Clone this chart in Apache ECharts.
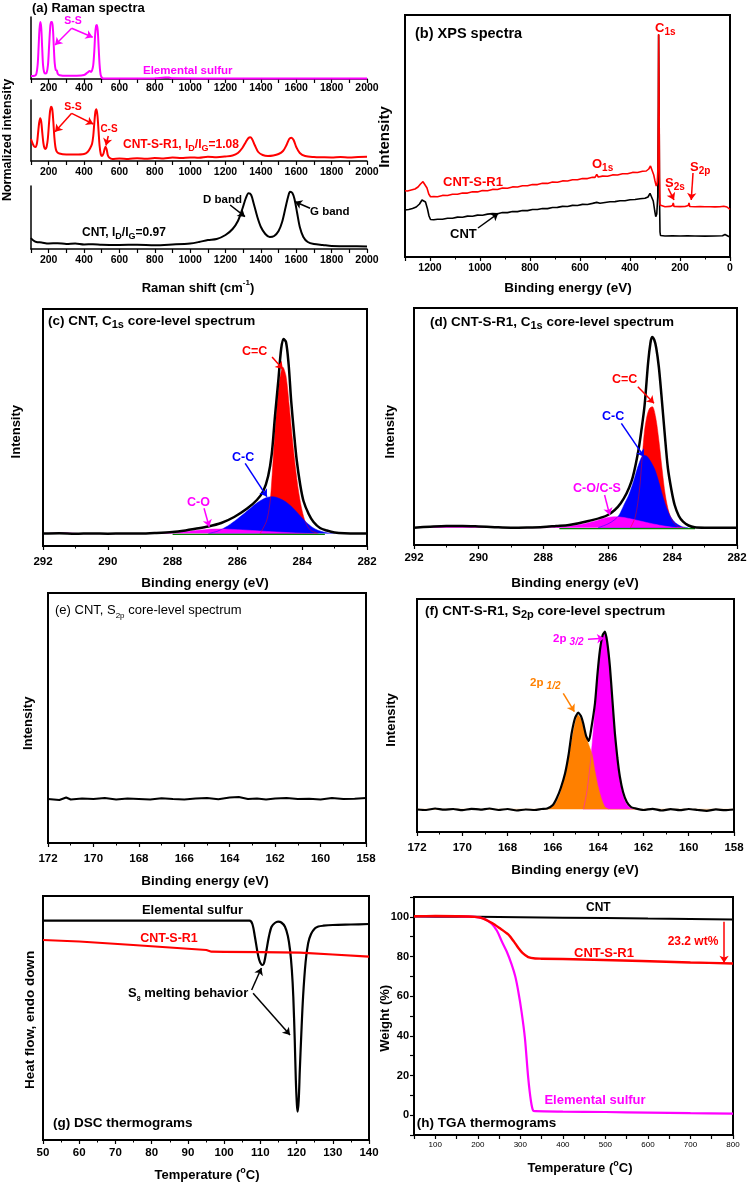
<!DOCTYPE html>
<html>
<head>
<meta charset="utf-8">
<script src="https://cdn.jsdelivr.net/npm/echarts@6.0.0/dist/echarts.min.js"></script>
<style>
html, body { margin: 0; padding: 0; background: #fff; }
#chart-container { width: 750px; height: 1183px; }
</style>
</head>
<body>
<div id="chart-container"></div>
<script>
'use strict';

// ---------- data (x, y) ----------
// (a) Raman spectra, [shift cm-1, intensity above each sub-axis]
const ramanSulfur = [[100,3],[120,3.2],[130,5],[138,15],[143,32],[148,50],[153,57],[158,51],[163,32],[168,14],[174,7],[180,5.5],[188,6],[196,14],[202,32],[208,50],[213,57],[219,57],[224,50],[229,32],[234,16],[240,9],[246,8.5],[252,5],[262,3.8],[300,3.2],[350,3.3],[400,4],[420,6.5],[432,8],[440,7],[446,9],[452,14],[458,28],[463,45],[468,53],[473,54],[478,47],[483,30],[488,14],[494,4],[502,1],[510,0.6],[600,0.6],[800,0.7],[860,1.5],[880,1.4],[900,0.7],[1200,0.6],[1600,0.6],[2000,0.6]];
const ramanCntS = [[100,22],[108,18],[118,14.5],[126,14],[134,18],[140,28],[146,38],[152,42.7],[158,39],[164,28],[170,18],[176,13],[182,12],[188,14],[195,22],[202,38],[208,50],[214,54.3],[220,52],[226,40],[232,24],[238,14],[245,9.5],[260,7.5],[300,6.5],[350,6.5],[400,7],[420,9],[435,13],[445,17],[452,25],[458,38],[464,49],[470,51.7],[476,45],[482,30],[488,15],[495,6.5],[502,5],[510,7.5],[516,12],[522,14.3],[528,11.5],[534,6],[542,3.5],[560,2],[600,2.5],[650,2],[700,2.8],[750,2.2],[800,3],[850,2.6],[900,3.5],[950,3],[1000,3.6],[1050,3.2],[1100,4.2],[1150,3.8],[1200,4.5],[1240,5.5],[1270,8],[1295,13],[1315,19],[1330,23],[1340,23.7],[1350,22],[1365,16],[1385,9],[1410,6],[1440,5],[1470,5.5],[1500,7],[1525,10],[1545,16],[1560,22],[1572,23.3],[1585,21],[1600,14],[1620,8],[1650,5],[1700,4],[1750,3.7],[1800,3.5],[1850,4],[1900,3.6],[1950,4],[2000,4.2]];
const ramanCnt = [[100,11],[110,9],[130,7],[160,6.5],[200,5.5],[250,5.8],[300,5],[350,5.5],[400,4.5],[450,4.8],[500,4.2],[600,4],[700,4.3],[800,3.8],[900,4.5],[1000,5.5],[1050,7],[1100,9],[1150,10],[1200,14],[1240,20],[1270,28],[1295,40],[1315,51],[1330,55.7],[1345,54],[1360,45],[1380,32],[1400,22],[1425,15],[1450,12],[1475,13],[1500,18],[1520,27],[1540,42],[1555,53],[1565,57.3],[1578,56],[1590,50],[1605,36],[1620,22],[1640,12],[1665,7],[1700,5],[1750,4],[1800,3],[1900,2.8],[2000,2.5]];

// (b) XPS survey, [binding energy eV, intensity]
const surveyCnt = [[1300,47],[1285,47.5],[1270,48.5],[1255,50],[1242,53],[1232,57],[1226,58],[1218,55],[1210,48],[1204,41],[1198,37.5],[1185,37.2],[1170,37.8],[1150,37.7],[1130,38.8],[1110,38.8],[1090,39.9],[1070,39.8],[1050,40.9],[1030,40.8],[1010,41.9],[990,41.8],[970,42.9],[950,43.4],[930,43.3],[910,44.5],[890,44.4],[870,45.5],[850,45.4],[830,46.5],[810,46.4],[790,47.5],[770,47.5],[750,48.5],[730,48.4],[710,49.5],[690,49.6],[670,50.6],[650,50.5],[630,51.6],[610,51.5],[590,52.6],[570,52.5],[550,53.6],[533,54.6],[520,53.8],[500,54.5],[480,55.2],[460,55.4],[440,56.2],[420,56.3],[400,57.2],[380,57.5],[360,58.2],[340,58.7],[328,60],[320,63.7],[314,62.5],[307,56],[301,46],[297,40.3],[293,43],[289,60],[286.5,150],[285.5,222],[284.5,223],[283.5,150],[282,60],[280,25],[278,21.5],[260,21],[230,21.2],[200,21],[170,21.1],[140,21],[100,20.9],[60,21],[30,21.2],[20,22.5],[14,21.5],[5,20.5],[0,20.3]];
const surveyCntS = [[1300,66.3],[1290,66],[1275,67],[1260,68],[1248,70],[1238,73],[1228,75.3],[1220,74],[1212,69],[1205,63],[1198,60.3],[1185,60.4],[1170,60.2],[1150,61.6],[1130,61.5],[1110,62.8],[1090,62.7],[1070,64],[1050,63.9],[1030,65.2],[1010,65.1],[990,66.4],[970,66.3],[950,67.6],[930,67.5],[910,68.9],[890,68.8],[870,70.1],[850,70],[830,71.3],[810,71.2],[790,72.5],[770,72.4],[750,73.7],[730,73.6],[710,74.9],[690,74.8],[670,76.1],[650,76],[630,77.3],[610,77.2],[590,78.5],[570,78.4],[550,79.7],[540,79.6],[533,82.5],[527,80],[510,80.9],[490,80.8],[470,82.1],[450,82],[430,83.3],[410,83.3],[390,84.6],[370,84.5],[350,85.7],[335,86],[325,88],[318,91],[312,89],[305,82],[300,76],[295,71],[291,74],[288,90],[286.5,150],[285.5,223],[284.5,224],[283.5,150],[282,80],[280,52],[278,50.5],[260,50.3],[240,50.6],[230,51.5],[227,54],[224,50.5],[200,50.4],[180,50.5],[167,51.5],[164,54],[161,50.5],[140,50.3],[120,50.4],[100,50.2],[80,50.3],[60,50.1],[40,50.2],[25,50.8],[18,52],[12,50],[5,48],[0,47.5]];

// (c) CNT C1s
const c1sCntEnv = [[292,12.4],[291.5,12.8],[291,12.2],[290.5,12.6],[290,12.3],[289.5,12.5],[289,12.4],[288.5,13],[288,14],[287.6,15.6],[287.3,17.2],[286.9,19.5],[286.5,23],[286.1,29],[285.7,37.4],[285.4,46],[285.2,55],[285.05,70],[284.94,92],[284.84,130],[284.73,168],[284.65,197],[284.58,207],[284.5,204],[284.42,182],[284.34,145],[284.25,112],[284.17,86],[284.06,61],[283.96,45],[283.8,32],[283.65,24],[283.45,18],[283.24,15.5],[283,13.6],[282.7,12.7],[282.3,12.4],[282,12.4]];
const c1sCntCdC = [[285.3,12.4],[285.1,25],[285.0,42],[284.95,60],[284.86,105],[284.78,140],[284.7,165],[284.6,179],[284.5,170],[284.4,140],[284.3,106],[284.2,76],[284.1,52],[284.0,35],[283.9,24],[283.75,16],[283.5,12.4]];
const c1sCntCC = [[286.9,12.4],[286.6,15],[286.3,20],[286.0,27],[285.7,35],[285.4,43],[285.1,48.5],[284.9,49.3],[284.7,47.5],[284.5,44],[284.3,38.5],[284.1,31.5],[283.9,24.5],[283.7,19],[283.5,15.5],[283.2,13],[283.0,12.4]];
const c1sCntCO = [[292,12.4],[291.3,13.2],[290.8,12.4],[289,12.4],[288.3,13],[287.6,14.5],[287.1,16],[286.7,17],[286.3,16.8],[285.7,15.8],[285.1,14.6],[284.5,13.5],[283.9,12.6],[283.5,12.4]];
const c1sCntBase = [[288,11.6],[283.3,11.6]];

// (d) CNT-S-R1 C1s
const c1sCntSEnv = [[292,17.3],[291.5,18.3],[291,19],[290.5,19],[290,18.5],[289.5,17.8],[289,17.3],[288.5,17.5],[288,18],[287.6,19],[287.2,20],[286.6,24],[286.0,30],[285.6,41.7],[285.27,63.3],[285.06,93.3],[284.95,117],[284.86,140],[284.75,183],[284.68,202],[284.63,208],[284.56,205],[284.5,197],[284.42,178],[284.34,150],[284.24,112],[284.14,77],[284.03,55],[283.93,40],[283.8,29],[283.67,23.3],[283.5,19.5],[283.31,17.7],[283,17.3],[282,17.3]];
const c1sCntSCdC = [[285.3,17.3],[285.15,28],[285.02,55],[284.93,90],[284.86,115],[284.78,130],[284.7,137],[284.62,138.3],[284.52,128],[284.42,105],[284.32,76],[284.22,50],[284.1,32],[283.95,22],[283.75,17.5],[283.6,17.3]];
const c1sCntSCC = [[286.3,17.3],[286.0,21],[285.8,25],[285.65,30],[285.5,40],[285.35,50],[285.2,64],[285.05,80],[284.9,89.5],[284.8,89],[284.7,85],[284.55,76],[284.42,63],[284.3,49],[284.18,37],[284.05,28],[283.9,22],[283.7,18.3],[283.5,17.3]];
const c1sCntSCO = [[292,17.3],[291,18.3],[290,17.8],[289,17.3],[288,17.3],[287.5,18],[287.0,19.5],[286.5,23],[286.1,26.8],[285.8,28.3],[285.5,27.5],[285.2,25.5],[284.8,22.5],[284.4,19.8],[284.0,17.8],[283.7,17.3]];
const c1sCntSBase = [[287.5,16.3],[283.3,16.3]];

// (e) CNT S2p
const s2pCnt = [[172,44],[171.5,43],[171.2,45.5],[171,43.5],[170.5,44.5],[170,44],[169.5,45],[169,43.5],[168.5,44.5],[168,44],[167.5,43.5],[167,44.8],[166.5,44],[166,43.6],[165.5,44.5],[165,45],[164.5,43.8],[164,45.5],[163.6,46],[163.2,44],[162.8,44.6],[162.4,43.5],[162,44.5],[161.5,45],[161,44],[160.5,44.2],[160,43.5],[159.5,45],[159,44],[158.5,44.3],[158,45]];

// (f) CNT-S-R1 S2p
const s2pCntSEnv = [[172,22.5],[171.6,22],[171.2,23.5],[170.8,22.3],[170.4,23],[170,21.8],[169.6,23.2],[169.2,22.4],[168.8,23.5],[168.4,22],[168,23],[167.6,21.5],[167.2,22.5],[166.8,22],[166.5,23],[166.25,23.5],[166.0,27],[165.83,33.7],[165.65,44],[165.46,58.7],[165.3,78],[165.17,98.7],[165.02,114],[164.88,119.3],[164.76,116],[164.66,108.7],[164.53,96],[164.41,91],[164.3,104],[164.14,128.7],[164.03,158],[163.92,182],[163.8,197],[163.7,200.3],[163.6,190],[163.48,165.3],[163.37,132],[163.26,98.7],[163.15,74],[163.04,55.3],[162.9,40],[162.74,30.3],[162.55,25],[162.38,23.7],[162,22],[161.6,23.2],[161.2,21.5],[160.8,22.8],[160.4,21.8],[160,23],[159.6,22],[159.2,21.2],[158.8,22.6],[158.4,21.8],[158,22.5]];
const s2p32 = [[164.65,22.7],[164.5,40],[164.35,68],[164.2,105],[164.05,148],[163.9,182],[163.78,196],[163.7,198.5],[163.6,188],[163.48,160],[163.35,120],[163.22,85],[163.1,60],[162.96,42],[162.8,30],[162.6,24.5],[162.4,22.7]];
const s2p12 = [[172,22.7],[166.4,22.7],[166.1,25],[165.9,28],[165.7,37],[165.5,54],[165.3,74],[165.15,94],[165.0,111],[164.9,117],[164.78,114],[164.65,105],[164.5,93],[164.38,85],[164.27,78],[164.15,62],[164.0,45],[163.85,33],[163.7,25],[163.5,22.7],[158,22.7]];

// (g) DSC, [temperature C, heat flow]
const dscSulfur = [[50,219.3],[70,219.3],[90,219.3],[107,219.3],[107.8,216],[108.5,203.3],[109.2,188],[109.7,180],[110.2,176],[110.6,175],[111.1,178],[111.7,190],[112.4,204],[113.1,213.3],[114,217],[114.9,218.3],[115.8,217.5],[116.8,213.3],[117.6,204],[118.2,190],[118.7,170],[119.1,143.3],[119.5,100],[119.8,60],[120.1,35],[120.3,28.3],[120.6,40],[120.9,70],[121.3,105],[121.8,143.3],[122.5,178],[123.2,196.7],[124,206],[125.1,211.7],[126,213.5],[127.4,214.3],[130,215],[135,215.5],[140,216]];
const dscCntS = [[50,200],[60,198.5],[74.9,195],[85,192.5],[95.1,190],[96.5,188.3],[100,188.2],[110,187.8],[120.9,187.3],[130,185.5],[140,183.3]];

// (h) TGA, [temperature C, weight %]
const tgaCnt = [[50,100.2],[100,100.1],[200,100],[300,99.8],[400,99.6],[500,99.4],[600,99.1],[700,98.9],[800,98.7]];
const tgaCntS = [[50,100.3],[100,100.4],[150,100.3],[193,100],[210,99.4],[232.5,97],[250,94.5],[271.5,91.1],[285,87.5],[295,84.4],[305,81.8],[318.5,79.7],[335,79],[350,78.9],[450,78.5],[585,77.7],[700,77],[800,76.5]];
const tgaSulfur = [[50,100.3],[100,100.4],[150,100.3],[193,100],[215,99],[232.5,96.5],[245,93],[256,87.8],[268,82.5],[279.5,76],[288,70],[295,62.6],[303,52],[310.7,39],[318.5,18.9],[325,7],[330.3,2.2],[335,2],[400,1.8],[500,1.6],[600,1.3],[700,1],[800,0.8]];

// annotation arrows, [from, to] in data units of their panel
const arrowsA1 = [[[330,50.7],[236,34]],[[330,50.7],[449,41.7]]];
const arrowsA2 = [[[330,47.7],[236,29.3]],[[330,47.7],[452,37]],[[537,25],[524,15.5]]];
const arrowsA3 = [[[1226,44],[1310,32.3]],[[1678,40.7],[1593,47.3]]];
const arrowsBblack = [[[1008,29],[927,43.7]]];
const arrowsBred = [[[247,68.7],[224,57]],[[148,84],[155,57]]];
const arrowsCred = [[[284.93,189],[284.6,177]]];
const arrowsCblue = [[[285.76,82.7],[285.09,49.3]]];
const arrowsCmag = [[[287.03,37.7],[286.87,19.3]]];
const arrowsDred = [[[285.07,158.3],[284.57,141.7]]];
const arrowsDblue = [[[285.58,121.7],[284.88,88.3]]];
const arrowsDmag = [[[286.1,50],[285.94,30]]];
const arrowsFmag = [[[164.45,192.7],[163.74,193.7]]];
const arrowsForg = [[[165.54,138.7],[165.05,120.3]]];
const arrowsG = [[[107.6,150],[110.3,172]],[[108.0,146.7],[118.2,105]]];
const arrowsH = [[[779,97.5],[779,76.8]]];

// ---------- styling ----------
const FONT = '"Liberation Sans", Arial, Helvetica, sans-serif';
const MAG = '#ff00ff';
const RED = '#ff0000';
const BLUE = '#0000ff';
const ORANGE = '#ff8000';
const GREEN = '#008000';

// grid boxes in pixels: [left, top, width, height]
const boxes = [
    [31, 17, 336, 62], [31, 100, 336, 61], [31, 186, 336, 63],
    [405, 15, 325, 242],
    [43, 309, 324, 237], [414, 308, 323, 237],
    [48, 593, 318, 250], [417, 599, 317, 233],
    [43, 896, 326, 244], [414, 897, 319, 238]
];

function xAx(grid, min, max, interval, p) {
    p = p || {};
    return {
        gridIndex: grid, type: 'value', min: min, max: max, interval: interval, inverse: !!p.inverse,
        axisLine: { show: true, onZero: false, lineStyle: { color: '#000', width: p.lw || 2 } },
        axisTick: { show: true, inside: false, length: 4, lineStyle: { color: '#000', width: 1.2 } },
        minorTick: { show: !!p.minor, splitNumber: 2, length: 2.5, lineStyle: { color: '#000', width: 1 } },
        axisLabel: {
            margin: p.margin || 8, color: '#000', fontFamily: FONT, fontWeight: p.weight || 'bold',
            fontSize: p.size || 11, formatter: p.fmt, showMinLabel: true, showMaxLabel: true
        },
        splitLine: { show: false }
    };
}

function yAx(grid, min, max, p) {
    p = p || {};
    return {
        gridIndex: grid, type: 'value', min: min, max: max, interval: p.interval,
        axisLine: { show: !!p.line, onZero: false, lineStyle: { color: '#000', width: p.lw || 2 } },
        axisTick: { show: !!p.labels, inside: false, length: 4, lineStyle: { color: '#000', width: 1.2 } },
        axisLabel: {
            show: !!p.labels, margin: 5, color: '#000', fontFamily: FONT, fontWeight: 'bold',
            fontSize: 11, formatter: p.fmt, showMinLabel: true, showMaxLabel: true
        },
        splitLine: { show: false }
    };
}

function arrowMarks(list, color) {
    return {
        silent: true, animation: false, symbol: ['none', 'arrow'], symbolSize: 7,
        label: { show: false },
        lineStyle: { color: color, width: 1.5, type: 'solid' },
        emphasis: { disabled: true },
        data: list.map(a => [{ coord: a[0] }, { coord: a[1] }])
    };
}

function line(grid, data, color, opt) {
    return Object.assign({
        type: 'line', xAxisIndex: grid, yAxisIndex: grid, data: data,
        symbol: 'none', showSymbol: false, silent: true, animation: false,
        lineStyle: { color: color, width: 2 }, itemStyle: { color: color },
        smooth: false
    }, opt || {});
}

function area(grid, data, color, base, opt) {
    return line(grid, data, color, Object.assign({
        smooth: 0.3,
        lineStyle: { color: color, width: 0.5 },
        areaStyle: { color: color, opacity: 1, origin: base }
    }, opt || {}));
}

// rich text label helper
function txt(x, y, text, size, color, o) {
    o = o || {};
    const w = o.weight || 'bold';
    const lh = size + 5;
    const sub = o.sub || Math.round(size * 0.78);
    const sup = o.sup || Math.round(size * 0.65);
    return {
        type: 'text', x: x, y: y, rotation: o.rot || 0, silent: true, z: 100,
        style: {
            text: text, fill: color || '#000',
            align: o.align || 'left', textAlign: o.align || 'left',
            verticalAlign: 'middle', textVerticalAlign: 'middle',
            rich: {
                n: { fontFamily: FONT, fontWeight: w, fontSize: size, lineHeight: lh, fill: color || '#000' },
                s: { fontFamily: FONT, fontWeight: w, fontSize: sub, lineHeight: sub, verticalAlign: 'bottom', fill: color || '#000' },
                i: { fontFamily: FONT, fontWeight: w, fontStyle: 'italic', fontSize: sub, lineHeight: sub, verticalAlign: 'bottom', fill: color || '#000' },
                u: { fontFamily: FONT, fontWeight: w, fontSize: sup, lineHeight: sup, verticalAlign: 'top', fill: color || '#000' }
            }
        }
    };
}
const V = Math.PI / 2;

let myChart = null;

function create() {
    if (myChart !== null) {
        return myChart;
    }
    myChart = echarts.init(document.getElementById('chart-container'), null, { renderer: 'canvas' });

    const grids = boxes.map((b, i) => ({
        left: b[0], top: b[1], width: b[2], height: b[3],
        show: i >= 3, borderColor: '#000', borderWidth: 2, backgroundColor: 'transparent',
        containLabel: false, outerBoundsMode: 'none'
    }));

    const ramanFmt = v => (v % 200 === 0 ? String(v) : '');
    const xAxes = [
        xAx(0, 100, 2000, 100, { fmt: ramanFmt, margin: 4, size: 10.5, lw: 1.5 }),
        xAx(1, 100, 2000, 100, { fmt: ramanFmt, margin: 6, size: 10.5, lw: 1.5 }),
        xAx(2, 100, 2000, 100, { fmt: ramanFmt, margin: 6, size: 10.5, lw: 1.5 }),
        xAx(3, 0, 1300, 200, { inverse: true, minor: true, margin: 6, size: 10.5, fmt: v => (v === 1300 ? '' : String(v)) }),
        xAx(4, 282, 292, 2, { inverse: true, minor: true, margin: 10, size: 11.5 }),
        xAx(5, 282, 292, 2, { inverse: true, minor: true, margin: 7, size: 11.5 }),
        xAx(6, 158, 172, 2, { inverse: true, minor: true, margin: 10, size: 11.5 }),
        xAx(7, 158, 172, 2, { inverse: true, minor: true, margin: 10, size: 11.5 }),
        xAx(8, 50, 140, 10, { minor: true, margin: 7, size: 11.5 }),
        xAx(9, 50, 800, 50, { margin: 6, size: 8, weight: 'normal', fmt: v => (v % 100 === 0 ? String(v) : '') })
    ];
    const yAxes = boxes.map((b, i) => {
        if (i < 3) return yAx(i, 0, b[3], { line: true, lw: 1.5 });
        if (i === 9) {
            return yAx(9, -10, 110, {
                line: true, labels: true, interval: 10,
                fmt: v => (v >= 0 && v <= 100 && v % 20 === 0 ? String(v) : '')
            });
        }
        return yAx(i, 0, b[3], { line: false });
    });

    const series = [
        line(0, ramanSulfur, MAG, { smooth: 0.3, markLine: arrowMarks(arrowsA1, MAG) }),
        line(1, ramanCntS, RED, { smooth: 0.3, markLine: arrowMarks(arrowsA2, RED) }),
        line(2, ramanCnt, '#000', { smooth: 0.3, markLine: arrowMarks(arrowsA3, '#000') }),

        line(3, surveyCnt, '#000', { lineStyle: { color: '#000', width: 1.6 }, markLine: arrowMarks(arrowsBblack, '#000') }),
        line(3, surveyCntS, RED, { lineStyle: { color: RED, width: 1.6 }, markLine: arrowMarks(arrowsBred, RED) }),

        area(4, c1sCntCdC, RED, 12.4, { markLine: arrowMarks(arrowsCred, RED) }),
        area(4, c1sCntCC, BLUE, 12.4, { markLine: arrowMarks(arrowsCblue, BLUE) }),
        area(4, c1sCntCO, MAG, 12.4, { markLine: arrowMarks(arrowsCmag, MAG) }),
        line(4, c1sCntBase, GREEN, { lineStyle: { color: GREEN, width: 1.2 } }),
        line(4, c1sCntEnv, '#000', { smooth: 0.3, lineStyle: { color: '#000', width: 2.5 } }),

        area(5, c1sCntSCdC, RED, 17.3, { markLine: arrowMarks(arrowsDred, RED) }),
        area(5, c1sCntSCC, BLUE, 17.3, { markLine: arrowMarks(arrowsDblue, BLUE) }),
        area(5, c1sCntSCO, MAG, 17.3, { markLine: arrowMarks(arrowsDmag, MAG) }),
        line(5, c1sCntSBase, GREEN, { lineStyle: { color: GREEN, width: 1.2 } }),
        line(5, c1sCntSEnv, '#000', { smooth: 0.3, lineStyle: { color: '#000', width: 2.5 } }),

        line(6, s2pCnt, '#000', { lineStyle: { color: '#000', width: 2 } }),

        area(7, s2p32, MAG, 22.7, { markLine: arrowMarks(arrowsFmag, MAG) }),
        area(7, s2p12, ORANGE, 22.7, { smooth: 0.2, markLine: arrowMarks(arrowsForg, ORANGE) }),
        line(7, s2pCntSEnv, '#000', { smooth: 0.2, lineStyle: { color: '#000', width: 2.2 } }),

        line(8, dscSulfur, '#000', { smooth: 0.3, lineStyle: { color: '#000', width: 2.2 }, markLine: arrowMarks(arrowsG, '#000') }),
        line(8, dscCntS, RED, { lineStyle: { color: RED, width: 2.2 } }),

        line(9, tgaCnt, '#000', { lineStyle: { color: '#000', width: 2 } }),
        line(9, tgaSulfur, MAG, { smooth: 0.3, lineStyle: { color: MAG, width: 2.2 } }),
        line(9, tgaCntS, RED, { smooth: 0.3, lineStyle: { color: RED, width: 2.4 }, markLine: arrowMarks(arrowsH, RED) })
    ];

    const texts = [
        // (a)
        txt(32, 8, '{n|(a) Raman spectra}', 13, '#000'),
        txt(73, 21, '{n|S-S}', 10.5, MAG, { align: 'center' }),
        txt(143, 70.5, '{n|Elemental sulfur}', 11.5, MAG),
        txt(73, 107, '{n|S-S}', 10.5, RED, { align: 'center' }),
        txt(109, 129, '{n|C-S}', 10, RED, { align: 'center' }),
        txt(123, 145, '{n|CNT-S-R1, I}{s|D}{n|/I}{s|G}{n|=1.08}', 12, RED, { sub: 9 }),
        txt(203, 200, '{n|D band}', 11.5, '#000'),
        txt(310, 211.7, '{n|G band}', 11.5, '#000'),
        txt(82, 233, '{n|CNT, I}{s|D}{n|/I}{s|G}{n|=0.97}', 12, '#000', { sub: 9 }),
        txt(8, 140, '{n|Normalized intensity}', 12.5, '#000', { rot: V, align: 'center' }),
        txt(198, 288, '{n|Raman shift (cm}{u|-1}{n|)}', 13, '#000', { align: 'center' }),
        // (b)
        txt(415, 34, '{n|(b) XPS spectra}', 14.5, '#000'),
        txt(655, 28, '{n|C}{s|1s}', 13, RED),
        txt(592, 164, '{n|O}{s|1s}', 13, RED),
        txt(443, 182, '{n|CNT-S-R1}', 13, RED),
        txt(450, 234, '{n|CNT}', 13, '#000'),
        txt(665, 183, '{n|S}{s|2s}', 13, RED),
        txt(690, 167, '{n|S}{s|2p}', 13, RED),
        txt(385, 137, '{n|Intensity}', 15, '#000', { rot: V, align: 'center' }),
        txt(568, 288, '{n|Binding energy (eV)}', 13.5, '#000', { align: 'center' }),
        // (c)
        txt(48, 321.7, '{n|(c) CNT, C}{s|1s}{n| core-level spectrum}', 13.5, '#000', { sub: 11 }),
        txt(242, 351.7, '{n|C=C}', 12.5, RED),
        txt(232, 458, '{n|C-C}', 12.5, BLUE),
        txt(187, 503, '{n|C-O}', 12.5, MAG),
        txt(16.7, 431.7, '{n|Intensity}', 13, '#000', { rot: V, align: 'center' }),
        txt(205, 583.3, '{n|Binding energy (eV)}', 13.5, '#000', { align: 'center' }),
        // (d)
        txt(430, 322.3, '{n|(d) CNT-S-R1, C}{s|1s}{n| core-level spectrum}', 13.5, '#000', { sub: 11 }),
        txt(612, 380, '{n|C=C}', 12.5, RED),
        txt(602, 416.7, '{n|C-C}', 12.5, BLUE),
        txt(573, 488.3, '{n|C-O/C-S}', 12.5, MAG),
        txt(390, 431.7, '{n|Intensity}', 13, '#000', { rot: V, align: 'center' }),
        txt(575, 583.3, '{n|Binding energy (eV)}', 13.5, '#000', { align: 'center' }),
        // (e)
        txt(55, 610.7, '{n|(e) CNT, S}{s|2p}{n| core-level spectrum}', 13, '#000', { weight: 'normal', sub: 8 }),
        txt(28.3, 723.3, '{n|Intensity}', 13, '#000', { rot: V, align: 'center' }),
        txt(205, 881.7, '{n|Binding energy (eV)}', 13.5, '#000', { align: 'center' }),
        // (f)
        txt(425, 611.7, '{n|(f) CNT-S-R1, S}{s|2p}{n| core-level spectrum}', 13.5, '#000', { sub: 11 }),
        txt(553, 639.3, '{n|2p }{i|3/2}', 11.5, MAG, { sub: 10 }),
        txt(530, 683.3, '{n|2p }{i|1/2}', 11.5, ORANGE, { sub: 10 }),
        txt(391.7, 720, '{n|Intensity}', 13, '#000', { rot: V, align: 'center' }),
        txt(575, 870, '{n|Binding energy (eV)}', 13.5, '#000', { align: 'center' }),
        // (g)
        txt(192.5, 910, '{n|Elemental sulfur}', 13, '#000', { align: 'center' }),
        txt(169, 938.3, '{n|CNT-S-R1}', 12.5, RED, { align: 'center' }),
        txt(128, 993.3, '{n|S}{s|8}{n| melting behavior}', 13, '#000', { sub: 7 }),
        txt(53, 1123.3, '{n|(g) DSC thermograms}', 13.5, '#000'),
        txt(30, 1020, '{n|Heat flow, endo down}', 13.5, '#000', { rot: V, align: 'center' }),
        txt(207, 1175, '{n|Temperature (}{u|o}{n|C)}', 13, '#000', { align: 'center', sup: 9 }),
        // (h)
        txt(598.3, 907.3, '{n|CNT}', 12, '#000', { align: 'center' }),
        txt(604, 953.3, '{n|CNT-S-R1}', 13, RED, { align: 'center' }),
        txt(693, 941.7, '{n|23.2 wt%}', 12, RED, { align: 'center' }),
        txt(595, 1100, '{n|Elemental sulfur}', 13, MAG, { align: 'center' }),
        txt(416.7, 1123.3, '{n|(h) TGA thermograms}', 13.5, '#000'),
        txt(385, 1018.3, '{n|Weight (%)}', 13, '#000', { rot: V, align: 'center' }),
        txt(580, 1168.3, '{n|Temperature (}{u|o}{n|C)}', 13, '#000', { align: 'center', sup: 9 })
    ];

    const option = {
        backgroundColor: '#fff',
        animation: false,
        grid: grids,
        xAxis: xAxes,
        yAxis: yAxes,
        series: series,
        graphic: { elements: texts }
    };
    myChart.setOption(option);

    window.addEventListener('resize', myChart.resize);

    return myChart;
}

create();
</script>
</body>
</html>
